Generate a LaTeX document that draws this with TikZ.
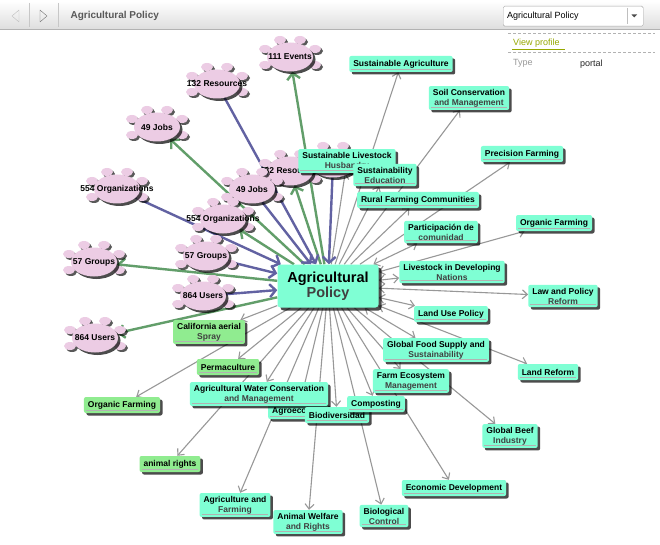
\documentclass[tikz,border=0pt]{standalone}
\usepackage{fontspec}
\setmainfont{Liberation Sans}
\usepackage{xcolor}
\usetikzlibrary{arrows.meta,shapes.geometric,shadows,backgrounds}

\definecolor{aqua}{RGB}{127,255,212}
\definecolor{mint}{RGB}{144,236,144}
\definecolor{puffpink}{RGB}{236,204,228}
\definecolor{linkgray}{RGB}{152,152,152}
\definecolor{linkgreen}{RGB}{98,158,106}
\definecolor{linkblue}{RGB}{98,98,162}
\definecolor{subgray}{RGB}{64,64,64}
\definecolor{olivelink}{RGB}{150,168,0}

\newcommand{\tagsub}[1]{\textcolor{subgray}{#1}}
\newcommand{\tagfont}{\bfseries\fontsize{8.5}{10}\selectfont}

% cloud of one content type: name, position, label
\newcommand{\puffcloud}[3]{%
  \foreach \dx/\dy [count=\k] in {-10/-17,10/-17,-25/-8,-25/8,25/-8,25/8}
    \node[puff,shift={(\dx,\dy)}] (#1-p\k) at (#2) {};
  \node[cloud] (#1) at (#2) {};
  \node[cloudtext] (#1-t) at (#1) {#3};
}

\begin{document}
\begin{tikzpicture}[x=1pt,y=-1pt,
  dropped/.style={drop shadow={shadow xshift=2.5pt,shadow yshift=-2.5pt,
    opacity=.7,fill=black}},
  topic/.style={fill=aqua,rounded corners=2pt,align=center,font=\tagfont,
    inner xsep=4pt,inner ysep=3pt,minimum height=16pt,dropped,
    path picture={\draw[black!30,line width=.6pt]
      ([shift={(2pt,2.5pt)}]path picture bounding box.south west) --
      ([shift={(-2pt,2.5pt)}]path picture bounding box.south east);}},
  tag/.style={topic,fill=mint},
  hub/.style={fill=aqua,rounded corners=3pt,align=center,
    font=\bfseries\fontsize{14.5}{15}\selectfont,
    minimum width=101pt,minimum height=43pt,
    drop shadow={shadow xshift=3pt,shadow yshift=-3pt,opacity=.7,fill=black}},
  cloud/.style={ellipse,fill=puffpink,minimum width=46pt,minimum height=29pt,
    inner sep=0pt,dropped},
  puff/.style={ellipse,fill=puffpink,minimum width=12pt,minimum height=8pt,
    inner sep=0pt,drop shadow={shadow xshift=2pt,shadow yshift=-2pt,opacity=.65,fill=black}},
  cloudtext/.style={font=\tagfont,inner sep=0pt},
  link/.style={draw=linkgray,line width=1.1pt,-{Straight Barb[length=5pt,width=9pt]}},
  twoway/.style={link,{Straight Barb[length=5pt,width=9pt]}-{Straight Barb[length=5pt,width=9pt]}},
  outlink/.style={draw=linkgreen,line width=2.4pt,-{Straight Barb[length=6pt,width=13pt]}},
  inlink/.style={draw=linkblue,line width=2.4pt,-{Straight Barb[length=6pt,width=13pt]}}
]
\useasboundingbox (0,0) rectangle (660,545);

% header bar
\shade[top color=white,bottom color=black!13] (0,1) rectangle (660,29);
\draw[black!30] (0,29) -- (660,29);
\draw[black!22] (29,3) -- (29,27) (58,3) -- (58,27);
\draw[black!25,line join=round] (19,10) -- (12,16) -- (19,22) -- cycle;
\draw[black!55,line join=round] (40,10) -- (47,16) -- (40,22) -- cycle;
\node[anchor=west,font=\bfseries\fontsize{10}{12}\selectfont,text=black!65] (title) at (67,16) {Agricultural Policy};
\node[draw=black!35,fill=white,rounded corners=1.5pt,minimum width=140pt,
  minimum height=20pt,inner sep=0pt,anchor=north west] (pick) at (503,6) {};
\node[anchor=west,font=\fontsize{9}{11}\selectfont,inner sep=0pt] (pick-t) at (507,16) {Agricultural Policy};
\draw[black!25] (627,8) -- (627,24);
\fill[black!70] (631.5,14.5) -- (637,14.5) -- (634.25,17.5) -- cycle;

% profile panel
\draw[black!30,dash pattern=on 3pt off 2pt] (508,33) -- (655,33) (508,52) -- (655,52);
\node[anchor=west,font=\fontsize{9}{11}\selectfont,text=olivelink,inner sep=0pt] (view) at (513,43) {View profile};
\draw[olivelink] (view.south west) ++(-1,1.5) -- ++(53,0);
\node[anchor=west,font=\fontsize{9}{11}\selectfont,text=black!40,inner sep=0pt] (type) at (513,63) {Type};
\node[anchor=west,font=\fontsize{9}{11}\selectfont,text=black!85,inner sep=0pt] (portal) at (580,64) {portal};

% content-type clouds, outer ring then inner ring
\puffcloud{ev1}{290,57}{111 Events}
\puffcloud{rs1}{217,84}{132 Resources}
\puffcloud{jb1}{157,127}{49 Jobs}
\puffcloud{or1}{117,189}{554 Organizations}
\puffcloud{gr1}{94,262}{57 Groups}
\puffcloud{us1}{95,338}{864 Users}
\puffcloud{ev2}{333,163}{111 Events}
\puffcloud{rs2}{290,171}{132 Resources}
\puffcloud{jb2}{252,189}{49 Jobs}
\puffcloud{or2}{223,219}{554 Organizations}
\puffcloud{gr2}{206,256}{57 Groups}
\puffcloud{us2}{203,296}{864 Users}

\node[hub] (hub) at (328,286) {Agricultural\\\tagsub{Policy}};

% related topics
\node[topic] (sagr) at (401,64) {Sustainable Agriculture};
\node[topic] (soil) at (469,98) {Soil Conservation\\\tagsub{and Management}};
\node[topic] (prec) at (522,154) {Precision Farming};
\node[topic] (slh) at (347,161) {Sustainable Livestock\\\tagsub{Husbandry}};
\node[topic] (sedu) at (385,175) {Sustainability\\\tagsub{Education}};
\node[topic] (rfc) at (418,200) {Rural Farming Communities};
\node[topic] (part) at (441,232) {Participación de\\\tagsub{comunidad}};
\node[topic] (orgr) at (554,223) {Organic Farming};
\node[topic] (ldn) at (452,272) {Livestock in Developing\\\tagsub{Nations}};
\node[topic] (law) at (563,296) {Law and Policy\\\tagsub{Reform}};
\node[topic] (luse) at (451,314) {Land Use Policy};
\node[topic] (gfood) at (436,350) {Global Food Supply and\\\tagsub{Sustainability}};
\node[topic] (lref) at (548,372) {Land Reform};
\node[topic] (feco) at (411,381) {Farm Ecosystem\\\tagsub{Management}};
\node[topic] (gbeef) at (510,436) {Global Beef\\\tagsub{Industry}};
\node[topic] (econ) at (454,488) {Economic Development};
\node[topic,anchor=west] (agro) at (268,411) {Agroecology};
\node[topic] (agwc) at (259,394) {Agricultural Water Conservation\\\tagsub{and Management}};
\node[topic] (biod) at (337,415) {Biodiversidad};
\node[topic] (comp) at (376,404) {Composting};
\node[topic] (bioc) at (384,516) {Biological\\\tagsub{Control}};
\node[topic] (awel) at (308,522) {Animal Welfare\\\tagsub{and Rights}};
\node[topic] (agfa) at (235,505) {Agriculture and\\\tagsub{Farming}};
\node[tag] (cals) at (209,332) {California aerial\\\tagsub{Spray}};
\node[tag] (perm) at (228,367) {Permaculture};
\node[tag] (orgl) at (122,405) {Organic Farming};
\node[tag] (arig) at (170,464) {animal rights};

\begin{scope}[on background layer]
  \fill[white] (0,0) rectangle (660,545);
  \foreach \t in {sagr,soil,prec,slh,sedu,rfc,feco,gbeef,econ,agwc,agro,biod,
                  comp,bioc,awel,agfa,cals,perm,orgl,arig}
    \draw[link] (hub) -- (\t);
  \foreach \t in {part,orgr,ldn,law,luse,gfood,lref}
    \draw[twoway] (hub) -- (\t);
  \foreach \c in {ev1,jb1,gr1,us1,rs2,or2}
    \draw[outlink] (hub) -- (\c);
  \foreach \c in {rs1,or1,ev2,jb2,gr2,us2}
    \draw[inlink] (\c) -- (hub);
\end{scope}
\end{tikzpicture}
\end{document}
